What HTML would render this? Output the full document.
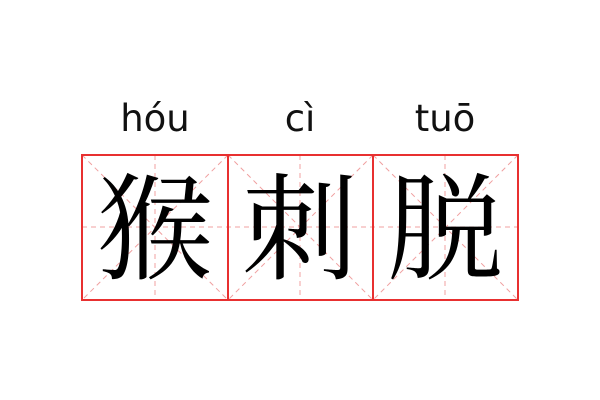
<!DOCTYPE html>
<html><head><meta charset="utf-8"><style>
html,body{margin:0;padding:0;background:#fff;width:600px;height:400px;overflow:hidden}
</style></head><body>
<svg width="600" height="400" xmlns="http://www.w3.org/2000/svg">
<rect width="600" height="400" fill="#fff"/>
<g font-family="'DejaVu Sans','Liberation Sans',sans-serif" font-size="37" fill="#111" text-anchor="middle">
<text x="155" y="131">hóu</text>
<text x="300" y="131">cì</text>
<text x="445" y="131">tuō</text>
</g>
<g stroke="#f0a0a0" stroke-width="1" stroke-dasharray="5,4" fill="none">
<line x1="82" y1="227" x2="518" y2="227"/>
<line x1="155" y1="155" x2="155" y2="300"/>
<line x1="300" y1="155" x2="300" y2="300"/>
<line x1="445" y1="155" x2="445" y2="300"/>
<line x1="82" y1="155" x2="228" y2="300"/><line x1="228" y1="155" x2="82" y2="300"/>
<line x1="228" y1="155" x2="373" y2="300"/><line x1="373" y1="155" x2="228" y2="300"/>
<line x1="373" y1="155" x2="518" y2="300"/><line x1="518" y1="155" x2="373" y2="300"/>
</g>
<g stroke="#e83030" stroke-width="2" fill="none">
<rect x="82" y="155" width="436" height="145"/>
<line x1="228" y1="155" x2="228" y2="300"/>
<line x1="373" y1="155" x2="373" y2="300"/>
</g>
<g font-family="'Noto Serif CJK SC','Noto Sans CJK SC',serif" font-size="116" fill="#000" text-anchor="middle">
<text x="155" y="270">猴</text>
<text x="300" y="270">刺</text>
<text x="445" y="270">脱</text>
</g>
</svg>
</body></html>
